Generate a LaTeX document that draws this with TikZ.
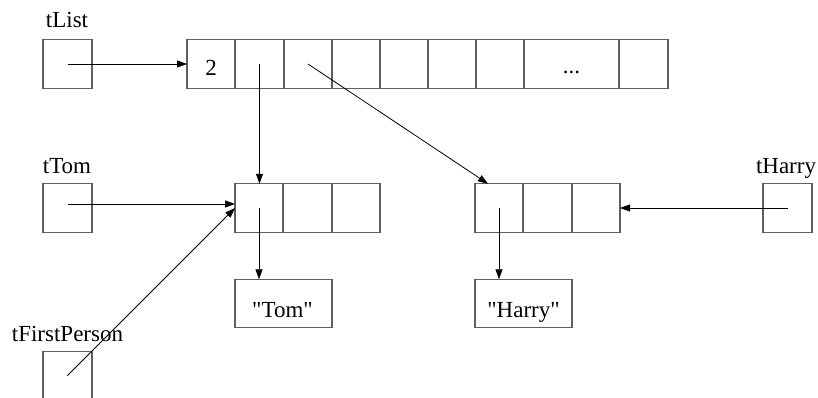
\documentclass[tikz,border=0pt]{standalone}
\usepackage{fontspec}
\setmainfont{Liberation Serif}[Ligatures=TeXOff]
\usetikzlibrary{arrows.meta}
\definecolor{boxgray}{RGB}{95,95,95}
\begin{document}
\begin{tikzpicture}[x=1pt,y=-1pt,
  box/.style={draw=boxgray,line width=1.1pt,inner sep=0pt,outer sep=0pt,minimum height=48.5pt},
  lbl/.style={font=\fontsize{23}{27}\selectfont,inner sep=0pt,anchor=base},
  ptr/.style={line width=0.8pt,-{Triangle[length=10pt,width=7pt]}}]
\useasboundingbox (0,0) rectangle (818,398);
% tList pointer and array
\node[box,minimum width=49pt] (tlist) at (67.5,64) {};
\node[box,minimum width=48pt] (a1) at (211,64) {};
\node[box,minimum width=49pt] (a2) at (259.5,64) {};
\node[box,minimum width=48pt] (a3) at (308,64) {};
\node[box,minimum width=48pt] (a4) at (356,64) {};
\node[box,minimum width=48pt] (a5) at (404,64) {};
\node[box,minimum width=48pt] (a6) at (452,64) {};
\node[box,minimum width=48pt] (a7) at (500,64) {};
\node[box,minimum width=95pt] (a8) at (571.5,64) {};
\node[box,minimum width=49pt] (a9) at (643.5,64) {};
% tTom
\node[box,minimum width=49pt] (tom) at (67.5,208) {};
\node[box,minimum width=48pt] (t1) at (259,208) {};
\node[box,minimum width=49pt] (t2) at (307.5,208) {};
\node[box,minimum width=48pt] (t3) at (356,208) {};
\node[box,minimum width=97pt] (tomstr) at (283.5,303.5) {};
% tHarry
\node[box,minimum width=48pt] (h1) at (499,208) {};
\node[box,minimum width=49pt] (h2) at (547.5,208) {};
\node[box,minimum width=48pt] (h3) at (596,208) {};
\node[box,minimum width=97pt] (harrystr) at (523.5,303.5) {};
\node[box,minimum width=49pt] (tharry) at (787.5,208) {};
% tFirstPerson
\node[box,minimum width=49pt] (tfp) at (67.5,375.5) {};
% texts
\node[lbl] (tlistL) at (67,28) {tList};
\node[lbl] (tomL) at (67,173) {tTom};
\node[lbl] (tfpL) at (67.5,341) {tFirstPerson};
\node[lbl] (tharryL) at (786,173) {tHarry};
\node[lbl] (two) at (211,76) {2};
\node[lbl] (dots) at (571.5,74) {...};
\node[lbl] (tomT) at (282.5,317) {"Tom"};
\node[lbl] (harryT) at (523.5,317) {"Harry"};
% pointers
\draw[ptr] (tlist.center) -- (a1.west);
\draw[ptr] (a2.center) -- (a2.center |- t1.north);
\draw[ptr] (a3.center) -- ([xshift=13pt]h1.north west);
\draw[ptr] ([yshift=4pt]tom.center) -- ([yshift=4pt]t1.west);
\draw[ptr] (tfp.center) -- (t1.west);
\draw[ptr] (tharry.center) -- (h3.east);
\draw[ptr] (t1.center) -- (t1.center |- tomstr.north);
\draw[ptr] (h1.center) -- (h1.center |- harrystr.north);
\end{tikzpicture}
\end{document}
